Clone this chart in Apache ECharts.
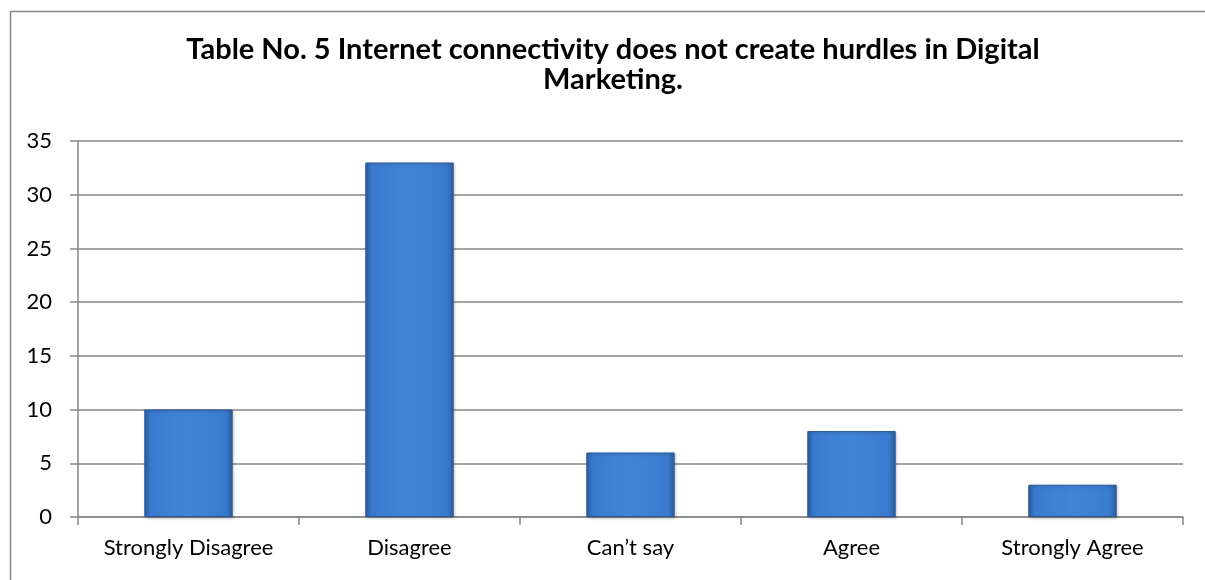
<!DOCTYPE html>
<html>
<head>
<meta charset="utf-8">
<script src="https://cdn.jsdelivr.net/npm/echarts@6/dist/echarts.min.js"></script>
<style>
  html, body { margin: 0; padding: 0; background: #fff; }
  #chart { width: 1205px; height: 580px; }
</style>
</head>
<body>
<div id="chart"></div>
<script>
// data
var categories = ['Strongly Disagree', 'Disagree', 'Can\u2019t say', 'Agree', 'Strongly Agree']
var responses = [10, 33, 6, 8, 3]
var yTicks = { min: 0, max: 35, interval: 5 }
var titleText = 'Table No. 5 Internet connectivity does not create hurdles in Digital\nMarketing.'

var font = 'Lato, "Open Sans", sans-serif'

var barFill = new echarts.graphic.LinearGradient(0, 0, 1, 0, [
  { offset: 0, color: '#2c62a8' },
  { offset: 0.08, color: '#3a7bd0' },
  { offset: 0.5, color: '#4185d8' },
  { offset: 0.92, color: '#3a7bd0' },
  { offset: 1, color: '#2c5e9f' }
])

var chart = echarts.init(document.getElementById('chart'))
chart.setOption({
  animation: false,
  backgroundColor: '#fff',
  title: {
    text: titleText,
    left: 608,
    textAlign: 'center',
    top: 30,
    textStyle: {
      fontFamily: font,
      fontWeight: 'bold',
      fontSize: 29,
      lineHeight: 30,
      color: '#000'
    }
  },
  graphic: [{
    type: 'rect',
    left: 8,
    top: 9,
    shape: { width: 1300, height: 700 },
    style: { fill: 'none', stroke: '#868686', lineWidth: 1.5 },
    silent: true
  }],
  grid: {
    left: 78,
    right: 22,
    top: 141,
    bottom: 63,
    containLabel: false
  },
  xAxis: {
    type: 'category',
    data: categories,
    axisLine: { show: true, lineStyle: { color: '#868686', width: 1.5 } },
    axisTick: { show: true, length: 8, lineStyle: { color: '#868686', width: 1.5 } },
    axisLabel: {
      margin: 20,
      fontFamily: font,
      fontSize: 22,
      color: '#000'
    }
  },
  yAxis: {
    type: 'value',
    min: yTicks.min,
    max: yTicks.max,
    interval: yTicks.interval,
    axisLine: { show: true, lineStyle: { color: '#868686', width: 1.5 } },
    axisTick: { show: true, length: 8, lineStyle: { color: '#868686', width: 1.5 } },
    axisLabel: {
      margin: 26,
      fontFamily: font,
      fontSize: 22,
      color: '#000'
    },
    splitLine: { show: true, lineStyle: { color: '#868686', width: 1.5 } }
  },
  series: [{
    type: 'bar',
    data: responses,
    barWidth: '40%',
    itemStyle: {
      color: barFill,
      borderColor: '#2a5a98',
      borderWidth: 1,
      shadowColor: 'rgba(0,0,0,0.25)',
      shadowBlur: 3,
      shadowOffsetX: 1,
      shadowOffsetY: 1
    }
  }]
})
</script>
</body>
</html>
